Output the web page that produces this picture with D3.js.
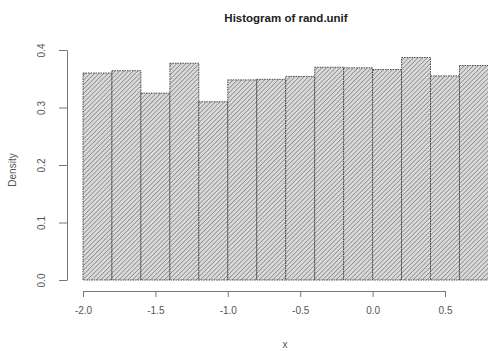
<!DOCTYPE html>
<html>
<head>
<meta charset="utf-8">
<script src="https://cdn.jsdelivr.net/npm/d3@7"></script>
<style>
  body { margin: 0; background: #fff; }
  svg { display: block; font-family: "Liberation Sans", Arial, sans-serif; }
  .axis path, .axis line { stroke: #777; }
  .axis text { fill: #555; font-size: 10px; }
</style>
</head>
<body>
<div id="chart"></div>
<script>
const breaks = [-2.0, -1.8, -1.6, -1.4, -1.2, -1.0, -0.8, -0.6, -0.4, -0.2, 0.0, 0.2, 0.4, 0.6, 0.8];
const density = [0.360, 0.364, 0.325, 0.377, 0.310, 0.348, 0.349, 0.354, 0.370, 0.369, 0.366, 0.387, 0.355, 0.373];
const xTicks = [-2.0, -1.5, -1.0, -0.5, 0.0, 0.5];
const yTicks = [0.0, 0.1, 0.2, 0.3, 0.4];

const width = 488;
const height = 351;

const svg = d3.select('#chart').append('svg')
  .attr('width', width)
  .attr('height', height);

// hatch fill like R's density= lines
const defs = svg.append('defs');
const pat = defs.append('pattern')
  .attr('id', 'hatch')
  .attr('patternUnits', 'userSpaceOnUse')
  .attr('width', 3.2)
  .attr('height', 3.2)
  .attr('patternTransform', 'rotate(45)');
pat.append('rect')
  .attr('width', 3.2).attr('height', 3.2)
  .attr('fill', '#dadada');
pat.append('line')
  .attr('x1', 0).attr('y1', 0)
  .attr('x2', 0).attr('y2', 3.2)
  .attr('stroke', '#7a7a7a')
  .attr('stroke-width', 1.3);

const x = d3.scaleLinear()
  .domain([-2.0, 0.5])
  .range([83, 445]);

const y = d3.scaleLinear()
  .domain([0, 0.4])
  .range([280, 50]);

const bins = density.map((d, i) => ({ x0: breaks[i], x1: breaks[i + 1], value: d }));

svg.append('g')
  .selectAll('rect')
  .data(bins)
  .join('rect')
  .attr('x', d => x(d.x0))
  .attr('y', d => y(d.value))
  .attr('width', d => x(d.x1) - x(d.x0))
  .attr('height', d => y(0) - y(d.value))
  .attr('fill', 'url(#hatch)')
  .attr('stroke', '#3a3a3a')
  .attr('stroke-width', 0.9)
  .attr('stroke-dasharray', '1.5,1');

// x axis
const xAxis = d3.axisBottom(x)
  .tickValues(xTicks)
  .tickFormat(d => d.toFixed(1))
  .tickSize(6)
  .tickSizeOuter(0)
  .tickPadding(10);

svg.append('g')
  .attr('class', 'axis')
  .attr('transform', 'translate(0,291)')
  .call(xAxis);

// y axis
const yAxis = d3.axisLeft(y)
  .tickValues(yTicks)
  .tickFormat(d => d.toFixed(1))
  .tickSize(8)
  .tickSizeOuter(0);

const yG = svg.append('g')
  .attr('class', 'axis')
  .attr('transform', 'translate(67,0)')
  .call(yAxis);

yG.selectAll('.tick text')
  .attr('x', 0)
  .attr('dy', 0)
  .attr('text-anchor', 'middle')
  .attr('transform', 'translate(-22,0) rotate(-90)');

svg.append('text')
  .attr('x', 286)
  .attr('y', 22)
  .attr('text-anchor', 'middle')
  .style('font-size', '11.5px')
  .style('font-weight', 'bold')
  .style('fill', '#222')
  .text('Histogram of rand.unif');

svg.append('text')
  .attr('x', 285)
  .attr('y', 348)
  .attr('text-anchor', 'middle')
  .style('font-size', '10px')
  .style('fill', '#555')
  .text('x');

svg.append('text')
  .attr('transform', 'translate(16,170) rotate(-90)')
  .attr('text-anchor', 'middle')
  .style('font-size', '10px')
  .style('fill', '#555')
  .text('Density');
</script>
</body>
</html>
